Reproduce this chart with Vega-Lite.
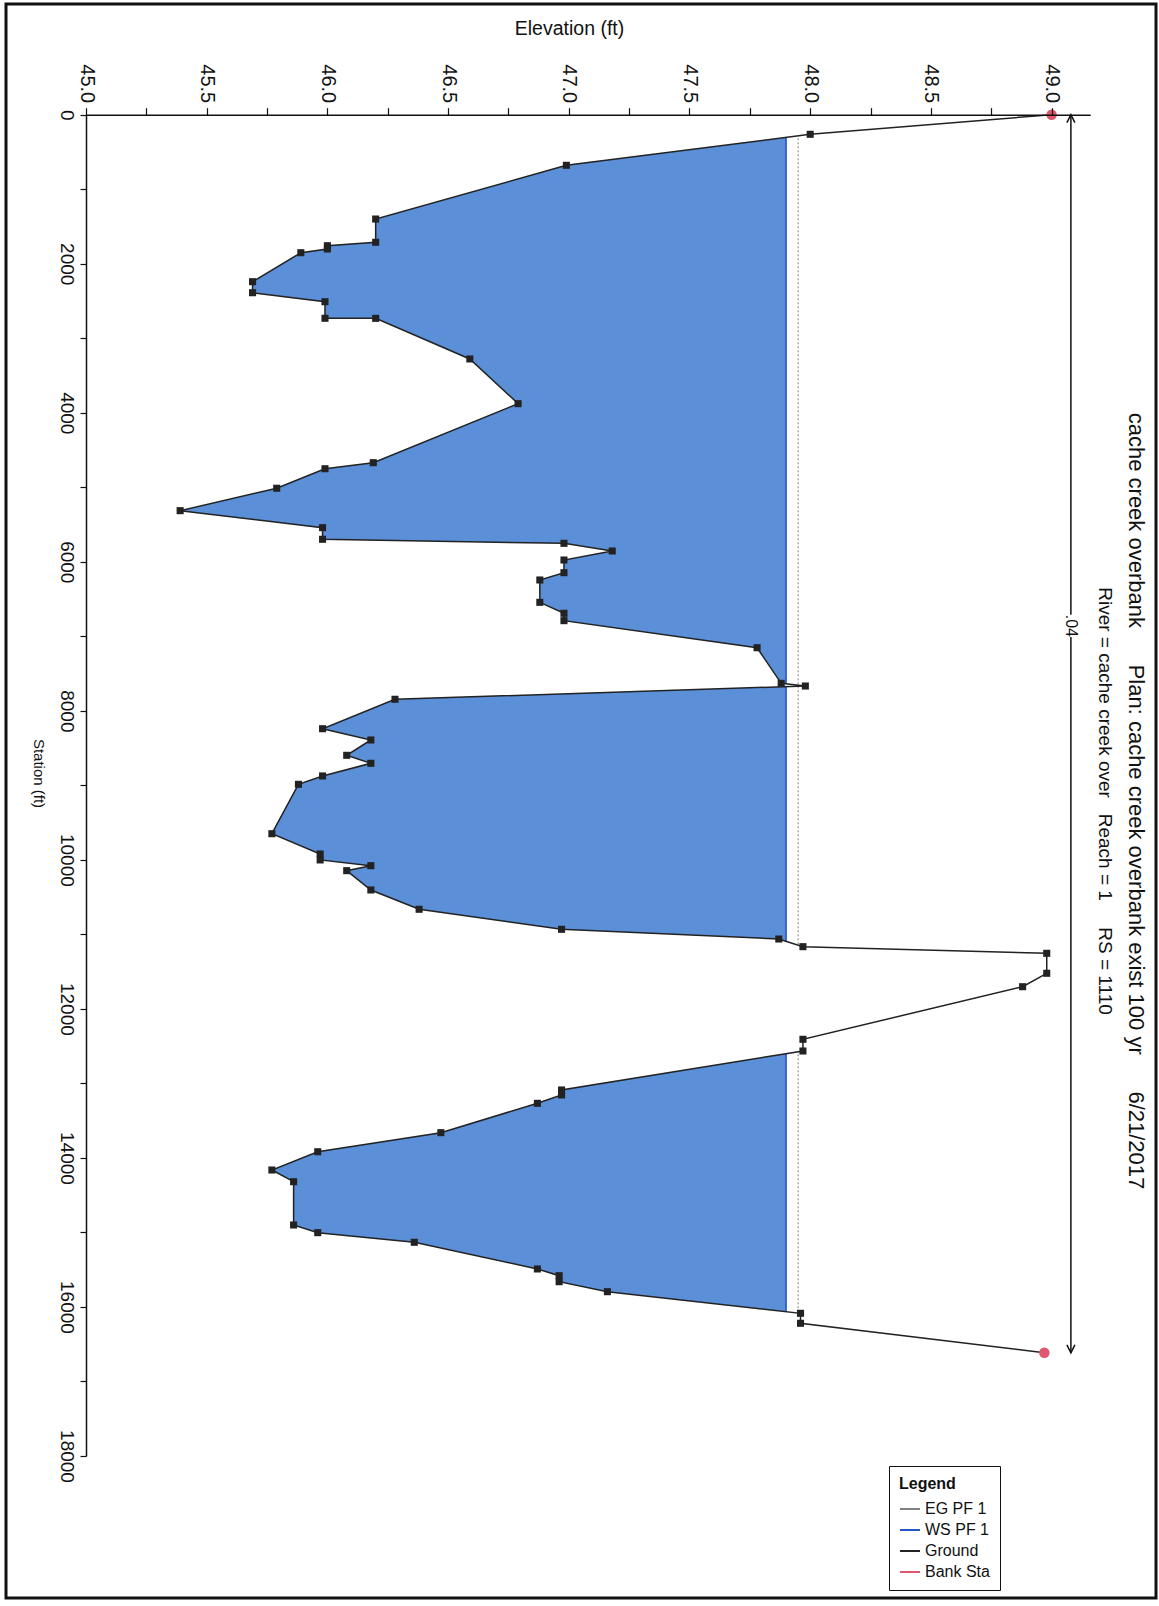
{
  "$schema": "https://vega.github.io/schema/vega-lite/v6.json",
  "width": 1150,
  "height": 1594,
  "padding": {"left": 6, "top": 4, "right": 3, "bottom": 8},
  "background": "white",
  "config": {
    "view": {"stroke": "#111111", "strokeWidth": 3},
    "font": "Liberation Sans"
  },
  "title": {
    "text": "cache creek overbank\u00a0\u00a0\u00a0\u00a0\u00a0\u00a0Plan: cache creek overbank exist 100 yr\u00a0\u00a0\u00a0\u00a0\u00a0\u00a06/21/2017",
    "subtitle": "River = cache creek over\u00a0\u00a0\u00a0Reach = 1\u00a0\u00a0\u00a0\u00a0\u00a0RS = 1110",
    "orient": "right",
    "anchor": "middle",
    "frame": "group",
    "offset": -62,
    "font": "Liberation Sans",
    "fontSize": 22,
    "fontWeight": "normal",
    "color": "#111111",
    "subtitleFont": "Liberation Sans",
    "subtitleFontSize": 19,
    "subtitleColor": "#111111",
    "subtitlePadding": 10
  },
  "datasets": {
    "ground": [
      {"station": 0, "elev": 49.00},
      {"station": 263, "elev": 48.00},
      {"station": 679, "elev": 46.99},
      {"station": 1400, "elev": 46.20},
      {"station": 1712, "elev": 46.20},
      {"station": 1758, "elev": 46.00},
      {"station": 1802, "elev": 46.00},
      {"station": 1852, "elev": 45.89},
      {"station": 2241, "elev": 45.69},
      {"station": 2389, "elev": 45.69},
      {"station": 2510, "elev": 45.99},
      {"station": 2732, "elev": 45.99},
      {"station": 2733, "elev": 46.20},
      {"station": 3278, "elev": 46.59},
      {"station": 3878, "elev": 46.79},
      {"station": 4670, "elev": 46.19},
      {"station": 4751, "elev": 45.99},
      {"station": 5013, "elev": 45.79},
      {"station": 5314, "elev": 45.39},
      {"station": 5542, "elev": 45.98},
      {"station": 5698, "elev": 45.98},
      {"station": 5752, "elev": 46.98},
      {"station": 5855, "elev": 47.18},
      {"station": 5976, "elev": 46.98},
      {"station": 6146, "elev": 46.98},
      {"station": 6244, "elev": 46.88},
      {"station": 6544, "elev": 46.88},
      {"station": 6691, "elev": 46.98},
      {"station": 6790, "elev": 46.98},
      {"station": 7153, "elev": 47.78},
      {"station": 7631, "elev": 47.88},
      {"station": 7667, "elev": 47.98},
      {"station": 7845, "elev": 46.28},
      {"station": 8240, "elev": 45.98},
      {"station": 8391, "elev": 46.18},
      {"station": 8597, "elev": 46.08},
      {"station": 8704, "elev": 46.18},
      {"station": 8874, "elev": 45.98},
      {"station": 8986, "elev": 45.88},
      {"station": 9649, "elev": 45.77},
      {"station": 9921, "elev": 45.97},
      {"station": 10001, "elev": 45.97},
      {"station": 10078, "elev": 46.18},
      {"station": 10145, "elev": 46.08},
      {"station": 10404, "elev": 46.18},
      {"station": 10663, "elev": 46.38},
      {"station": 10932, "elev": 46.97},
      {"station": 11062, "elev": 47.87},
      {"station": 11165, "elev": 47.97},
      {"station": 11254, "elev": 48.98},
      {"station": 11522, "elev": 48.98},
      {"station": 11702, "elev": 48.88},
      {"station": 12408, "elev": 47.97},
      {"station": 12565, "elev": 47.97},
      {"station": 13088, "elev": 46.97},
      {"station": 13155, "elev": 46.97},
      {"station": 13267, "elev": 46.87},
      {"station": 13661, "elev": 46.47},
      {"station": 13917, "elev": 45.96},
      {"station": 14162, "elev": 45.77},
      {"station": 14319, "elev": 45.86},
      {"station": 14900, "elev": 45.86},
      {"station": 15003, "elev": 45.96},
      {"station": 15132, "elev": 46.36},
      {"station": 15490, "elev": 46.87},
      {"station": 15580, "elev": 46.96},
      {"station": 15661, "elev": 46.96},
      {"station": 15795, "elev": 47.16},
      {"station": 16085, "elev": 47.96},
      {"station": 16219, "elev": 47.96},
      {"station": 16615, "elev": 48.97}
    ],
    "bank": [
      {"station": 0, "elev": 49.00},
      {"station": 16615, "elev": 48.97}
    ],
    "ws": [
      {"profile": "WS PF 1", "elev": 47.90, "sta_start": 263, "sta_end": 16219}
    ],
    "eg": [
      {"profile": "EG PF 1", "elev": 47.95, "sta_start": 263, "sta_end": 16219}
    ],
    "nvalue": [
      {"n": ".04", "sta_left": 0, "sta_right": 16615, "sta_label": 6860}
    ]
  },
  "layer": [
    {
      "data": {"name": "ws"},
      "mark": {"type": "rect", "fill": "#5b8fd8", "strokeWidth": 0},
      "encoding": {
        "x": {
          "field": "elev", "type": "quantitative", "title": "Elevation (ft)",
          "scale": {"domain": [45, 49.16], "range": [80, 1084.2], "nice": false, "zero": false},
          "axis": {
            "orient": "top", "offset": -110.7,
            "values": [45, 45.25, 45.5, 45.75, 46, 46.25, 46.5, 46.75, 47, 47.25, 47.5, 47.75, 48, 48.25, 48.5, 48.75, 49],
            "labelExpr": "datum.value % 0.5 === 0 ? format(datum.value, '.1f') : ''",
            "labelAngle": 90, "labelAlign": "right", "labelBaseline": "middle",
            "labelPadding": 5, "labelFontSize": 20, "labelColor": "#111111", "labelFont": "Liberation Sans",
            "labelFlush": false, "labelOverlap": false, "labelBound": false,
            "tickSize": 7, "tickColor": "#111111", "tickWidth": 1.2,
            "domainColor": "#111111", "domainWidth": 1.5, "grid": false,
            "titleX": 563, "titleY": -86.7, "titleAngle": 0, "titleAlign": "center", "titleBaseline": "middle",
            "titleFontSize": 19.5, "titleFontWeight": "normal", "titleColor": "#111111", "titleFont": "Liberation Sans",
            "zindex": 1
          }
        },
        "x2": {"datum": 45},
        "y": {
          "field": "sta_start", "type": "quantitative", "title": "Station (ft)",
          "scale": {"domain": [0, 18000], "range": [110.7, 1452], "nice": false, "zero": false},
          "axis": {
            "orient": "left", "offset": -80,
            "values": [0, 1000, 2000, 3000, 4000, 5000, 6000, 7000, 8000, 9000, 10000, 11000, 12000, 13000, 14000, 15000, 16000, 17000, 18000],
            "labelExpr": "datum.value % 2000 === 0 ? format(datum.value, 'd') : ''",
            "labelAngle": 90, "labelAlign": "center", "labelBaseline": "top",
            "labelPadding": 5, "labelFontSize": 19, "labelColor": "#111111", "labelFont": "Liberation Sans",
            "labelFlush": false, "labelOverlap": false, "labelBound": false,
            "tickSize": 6, "tickColor": "#111111", "tickWidth": 1.2,
            "domainColor": "#111111", "domainWidth": 1.5, "grid": false,
            "titleX": -48, "titleY": 769, "titleAngle": 90, "titleAlign": "center", "titleBaseline": "middle",
            "titleFontSize": 15, "titleFontWeight": "normal", "titleColor": "#111111", "titleFont": "Liberation Sans",
            "zindex": 1
          }
        },
        "y2": {"field": "sta_end"}
      }
    },
    {
      "data": {"name": "ws"},
      "mark": {"type": "rule", "strokeWidth": 1.6},
      "encoding": {
        "x": {"field": "elev", "type": "quantitative", "title": "Elevation (ft)"},
        "y": {"field": "sta_start", "type": "quantitative", "title": "Station (ft)"},
        "y2": {"field": "sta_end"},
        "color": {
          "field": "profile", "type": "nominal",
          "scale": {"domain": ["EG PF 1", "WS PF 1", "Ground", "Bank Sta"], "range": ["#808080", "#2255cc", "#222222", "#e0566e"]},
          "legend": {
            "orient": "none", "legendX": 883, "legendY": 1462,
            "title": "Legend", "titleFont": "Liberation Sans", "titleFontSize": 16, "titleFontWeight": "bold", "titleColor": "#111111",
            "titlePadding": 6,
            "labelFont": "Liberation Sans", "labelFontSize": 16, "labelColor": "#111111",
            "strokeColor": "#111111", "fillColor": "white", "padding": 10,
            "symbolType": "stroke", "symbolSize": 400, "symbolStrokeWidth": 2, "rowPadding": 2
          }
        }
      }
    },
    {
      "data": {"name": "eg"},
      "mark": {"type": "rule", "strokeWidth": 1, "strokeDash": [2, 2]},
      "encoding": {
        "x": {"field": "elev", "type": "quantitative", "title": "Elevation (ft)"},
        "y": {"field": "sta_start", "type": "quantitative", "title": "Station (ft)"},
        "y2": {"field": "sta_end"},
        "color": {"field": "profile", "type": "nominal"}
      }
    },
    {
      "data": {"name": "ground"},
      "mark": {"type": "area", "orient": "horizontal", "fill": "white", "strokeWidth": 0},
      "encoding": {
        "x": {"field": "elev", "type": "quantitative", "title": "Elevation (ft)"},
        "x2": {"datum": 45},
        "y": {"field": "station", "type": "quantitative", "title": "Station (ft)"}
      }
    },
    {
      "data": {"name": "ground"},
      "mark": {"type": "line", "strokeWidth": 1.5, "point": {"shape": "square", "filled": true, "size": 50, "color": "#333333"}},
      "encoding": {
        "x": {"field": "elev", "type": "quantitative", "title": "Elevation (ft)"},
        "y": {"field": "station", "type": "quantitative", "title": "Station (ft)"},
        "order": {"field": "station", "type": "quantitative"},
        "color": {"datum": "Ground"}
      }
    },
    {
      "data": {"name": "bank"},
      "mark": {"type": "point", "shape": "circle", "filled": true, "size": 110, "opacity": 1},
      "encoding": {
        "x": {"field": "elev", "type": "quantitative", "title": "Elevation (ft)"},
        "y": {"field": "station", "type": "quantitative", "title": "Station (ft)"},
        "color": {"datum": "Bank Sta"}
      }
    },
    {
      "data": {"name": "nvalue"},
      "mark": {"type": "rule", "color": "#111111", "strokeWidth": 1.5},
      "encoding": {
        "x": {"datum": 49.08},
        "y": {"field": "sta_left", "type": "quantitative", "title": "Station (ft)"},
        "y2": {"field": "sta_right"}
      }
    },
    {
      "data": {"name": "nvalue"},
      "mark": {"type": "point", "shape": "square", "filled": true, "color": "white", "size": 500, "opacity": 1},
      "encoding": {
        "x": {"datum": 49.08},
        "y": {"field": "sta_label", "type": "quantitative", "title": "Station (ft)"}
      }
    },
    {
      "data": {"name": "nvalue"},
      "mark": {"type": "text", "angle": 90, "fontSize": 16, "font": "Liberation Sans", "color": "#111111", "align": "center", "baseline": "middle"},
      "encoding": {
        "x": {"datum": 49.08},
        "y": {"field": "sta_label", "type": "quantitative", "title": "Station (ft)"},
        "text": {"field": "n"}
      }
    },
    {
      "data": {"name": "nvalue"},
      "mark": {"type": "point", "shape": "M-1,2L0,0L1,2", "filled": false, "color": "#111111", "strokeWidth": 1.5, "size": 64, "opacity": 1},
      "encoding": {
        "x": {"datum": 49.08},
        "y": {"field": "sta_left", "type": "quantitative", "title": "Station (ft)"}
      }
    },
    {
      "data": {"name": "nvalue"},
      "mark": {"type": "point", "shape": "M-1,-2L0,0L1,-2", "filled": false, "color": "#111111", "strokeWidth": 1.5, "size": 64, "opacity": 1},
      "encoding": {
        "x": {"datum": 49.08},
        "y": {"field": "sta_right", "type": "quantitative", "title": "Station (ft)"}
      }
    }
  ]
}
